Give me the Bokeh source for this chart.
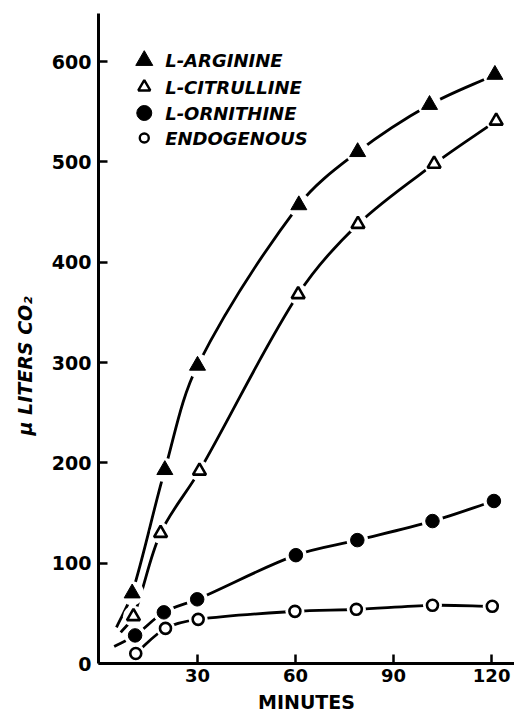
import numpy as np
from bokeh.plotting import figure
from bokeh.models import Range1d, FixedTicker, Label, ColumnDataSource, Title
from bokeh.embed import file_html
from bokeh.resources import INLINE

# ---- data ----
arg_min = [10, 20, 30, 61, 79, 101, 121]
arg_co2 = [70, 193, 297, 457, 510, 557, 587]

cit_min = [10.4, 18.7, 30.6, 60.8, 79.1, 102.4, 121.4]
cit_co2 = [47, 130, 192, 368, 438, 498, 541]

orn_min = [10.9, 19.7, 29.9, 60.1, 78.9, 101.9, 120.7]
orn_co2 = [28, 51, 64, 108, 123, 142, 162]

endo_min = [11.1, 20.2, 30.2, 59.8, 78.6, 101.9, 120.2]
endo_co2 = [10, 35, 44, 52, 54, 58, 57]

# where each hand-drawn curve begins (lead-in before first point)
arg_curve_start = (5.2, 36)
cit_curve_start = (6.5, 31)
orn_curve_start = (4.5, 17)
endo_curve_start = None

series_names = ["L-ARGININE", "L-CITRULLINE", "L-ORNITHINE", "ENDOGENOUS"]
x_ticks = [30, 60, 90, 120]
y_ticks = [0, 100, 200, 300, 400, 500, 600]

X_START, X_END = -0.3, 127.0
Y_START, Y_END = 0, 648
W, H = 514, 718
MB_L, MB_R, MB_T, MB_B = 96, 0, 13, 55
FW = W - MB_L - MB_R
FH = H - MB_T - MB_B
KX = FW / (X_END - X_START)
KY = FH / (Y_END - Y_START)


def px_to_x(px):
    return X_START + (px - MB_L) / KX


def py_to_y(py):
    return Y_END - (py - MB_T) / KY


def bezier_source(xs, ys, start):
    if start is not None:
        xs = [start[0]] + list(xs)
        ys = [start[1]] + list(ys)
    P = np.column_stack([np.asarray(xs, float) * KX, np.asarray(ys, float) * KY])
    n = len(P)
    diff = np.diff(P, axis=0)
    d = np.hypot(diff[:, 0], diff[:, 1])
    m = np.zeros_like(P)
    m[0] = diff[0] / d[0]
    m[-1] = diff[-1] / d[-1]
    for i in range(1, n - 1):
        m[i] = (P[i + 1] - P[i - 1]) / (d[i - 1] + d[i])
    c0 = P[:-1] + m[:-1] * d[:, None] / 3
    c1 = P[1:] - m[1:] * d[:, None] / 3
    return ColumnDataSource(dict(
        x0=P[:-1, 0] / KX, y0=P[:-1, 1] / KY,
        x1=P[1:, 0] / KX, y1=P[1:, 1] / KY,
        cx0=c0[:, 0] / KX, cy0=c0[:, 1] / KY,
        cx1=c1[:, 0] / KX, cy1=c1[:, 1] / KY,
    ))


p = figure(width=W, height=H, x_range=Range1d(X_START, X_END), y_range=Range1d(Y_START, Y_END),
           output_backend="svg", toolbar_location=None,
           min_border_left=MB_L, min_border_right=MB_R, min_border_top=MB_T, min_border_bottom=MB_B)
p.grid.visible = False
p.outline_line_color = None
p.background_fill_color = "white"
p.border_fill_color = "white"

for ax in (p.xaxis[0], p.yaxis[0]):
    ax.axis_line_width = 3
    ax.axis_line_color = "black"
    ax.major_tick_line_width = 2.5
    ax.major_tick_line_color = "black"
    ax.major_tick_in = 9
    ax.major_tick_out = 0
    ax.minor_tick_line_color = None
    ax.major_label_text_font = "DejaVu Sans"
    ax.major_label_text_font_style = "bold"
    ax.major_label_text_color = "black"

p.yaxis.major_label_text_font_size = "19px"
p.xaxis.major_label_text_font_size = "18px"
p.yaxis.major_label_standoff = 7
p.xaxis.major_label_standoff = 5
p.xaxis.ticker = FixedTicker(ticks=x_ticks)
p.yaxis.ticker = FixedTicker(ticks=y_ticks)
p.xaxis.axis_label = "MINUTES"
p.xaxis.axis_label_text_font = "DejaVu Sans"
p.xaxis.axis_label_text_font_size = "19px"
p.xaxis.axis_label_text_font_style = "bold"
p.xaxis.axis_label_text_color = "black"
p.xaxis.axis_label_standoff = 6

#        name, x, y, curve start, marker, filled, size, legend size
series = [
    (series_names[0], arg_min, arg_co2, arg_curve_start, "triangle", True, 16, 17),
    (series_names[1], cit_min, cit_co2, cit_curve_start, "triangle", False, 13, 12),
    (series_names[2], orn_min, orn_co2, orn_curve_start, "circle", True, 13.5, 15),
    (series_names[3], endo_min, endo_co2, endo_curve_start, "circle", False, 11, 9),
]

# curves
for name, xs, ys, start, mk, filled, size, lsize in series:
    p.bezier(x0="x0", y0="y0", x1="x1", y1="y1", cx0="cx0", cy0="cy0", cx1="cx1", cy1="cy1",
             source=bezier_source(xs, ys, start), line_color="black", line_width=2.8)

# white gaps around the points
for name, xs, ys, start, mk, filled, size, lsize in series:
    p.scatter(xs, ys, marker="circle", size=size + 8, fill_color="white", line_color=None)

for name, xs, ys, start, mk, filled, size, lsize in series:
    p.scatter(xs, ys, marker=mk, size=size,
              fill_color="black" if filled else "white",
              line_color="black", line_width=1 if filled else 2.6)

# hand-made key (top left), positioned in pixels
key_px = 142
text_px = 163
row_py = [60, 86.5, 112.5, 137.5]
for (name, xs, ys, start, mk, filled, size, lsize), py in zip(series, row_py):
    p.scatter([px_to_x(key_px)], [py_to_y(py)], marker=mk, size=lsize,
              fill_color="black" if filled else "white",
              line_color="black", line_width=1 if filled else 2.4)
    p.add_layout(Label(x=px_to_x(text_px), y=py_to_y(py), text=name,
                       text_align="left", text_baseline="middle",
                       text_font="DejaVu Sans", text_font_size="18px",
                       text_font_style="bold italic", text_color="black"))

ytitle = Title(text="μ LITERS CO₂", align="left", offset=228, vertical_align="middle",
               standoff=24, text_font="DejaVu Sans", text_font_size="19px",
               text_font_style="bold italic", text_color="black")
p.add_layout(ytitle, "left")

open("out.html", "w").write(file_html(p, INLINE))
